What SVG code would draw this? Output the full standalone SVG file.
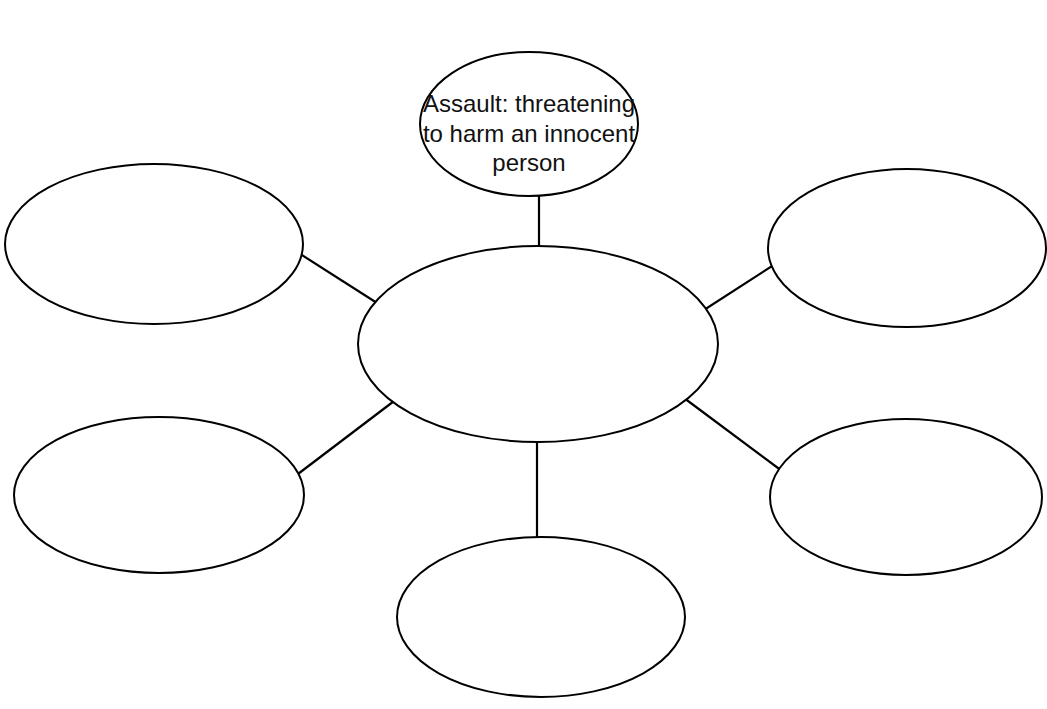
<svg xmlns="http://www.w3.org/2000/svg" width="1047" height="709" viewBox="0 0 1047 709">
<style>
.node{fill:#ffffff;stroke:#000000;stroke-width:2}
.conn{stroke:#000000;stroke-width:2.2;fill:none}
.lbl{font-family:"Liberation Sans",Arial,sans-serif;font-size:24px;fill:#111111;text-anchor:middle}
</style>
<rect x="0" y="0" width="1047" height="709" fill="#ffffff"/>
<g id="connectors">
<line class="conn" x1="539" y1="188" x2="539" y2="252"/>
<line class="conn" x1="294" y1="250" x2="388" y2="310"/>
<line class="conn" x1="690" y1="319" x2="783" y2="259"/>
<line class="conn" x1="294" y1="477" x2="402" y2="395"/>
<line class="conn" x1="680" y1="395" x2="786" y2="474"/>
<line class="conn" x1="537" y1="436" x2="537" y2="543"/>
</g>
<g id="node-top">
<ellipse class="node" cx="529" cy="124" rx="109" ry="72"/>
<text class="lbl" x="529" y="112">Assault: threatening</text>
<text class="lbl" x="529" y="142">to harm an innocent</text>
<text class="lbl" x="529" y="171">person</text>
</g>
<g id="node-center"><ellipse class="node" cx="538" cy="344" rx="180" ry="98"/></g>
<g id="node-top-left"><ellipse class="node" cx="154" cy="244" rx="149" ry="80"/></g>
<g id="node-top-right"><ellipse class="node" cx="907" cy="248" rx="139" ry="79"/></g>
<g id="node-bottom-left"><ellipse class="node" cx="159" cy="495" rx="145" ry="78"/></g>
<g id="node-bottom-right"><ellipse class="node" cx="906" cy="497" rx="136" ry="78"/></g>
<g id="node-bottom"><ellipse class="node" cx="541" cy="617" rx="144" ry="80"/></g>
</svg>
